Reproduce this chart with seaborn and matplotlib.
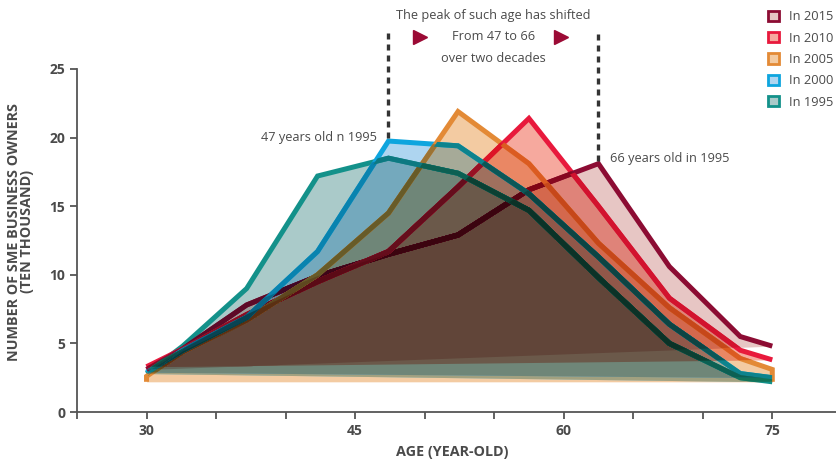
import numpy as np
import pandas as pd
import seaborn as sns
import matplotlib.pyplot as plt
from itertools import combinations
from matplotlib.path import Path
from matplotlib.patches import Patch
from matplotlib.colors import to_rgb

# values (ten thousand owners by age)
ages = [30, 32.6, 37.2, 42.3, 47.4, 52.4, 57.5, 62.5, 67.6, 72.7, 75]
owners_2015 = [3.1, 4.6, 7.8, 9.9, 11.5, 12.9, 16.2, 18.1, 10.6, 5.5, 4.8]
owners_2010 = [3.3, 4.6, 7.1, 9.5, 11.7, 16.4, 21.4, 15.0, 8.3, 4.5, 3.8]
owners_2005 = [2.6, 4.4, 6.7, 10.0, 14.5, 21.9, 18.1, 12.3, 7.6, 3.9, 3.1]
owners_2000 = [2.9, 4.5, 6.9, 11.7, 19.75, 19.4, 15.9, 11.3, 6.4, 2.8, 2.5]
owners_1995 = [2.8, 4.8, 9.0, 17.2, 18.5, 17.4, 14.7, 9.8, 5.0, 2.5, 2.2]
floor_2005 = 2.2  # the 2005 area drops to this at both ends

years = ['2015', '2010', '2005', '2000', '1995']
series = dict(zip(years, [owners_2015, owners_2010, owners_2005, owners_2000, owners_1995]))
line_colors = dict(zip(years, ['#8c0c33', '#e8193c', '#e38a36', '#0ea5de', '#13918a']))
fill_colors = dict(zip(years, ['#e7c6c4', '#f6a99e', '#f3cba2', '#aed5f0', '#aacac9']))
text_col = '#4a4a4a'

sns.set_style('ticks')
plt.rcParams['font.family'] = ['Open Sans', 'DejaVu Sans']

fig = plt.figure(figsize=(8.36, 4.66), dpi=100)
ax = fig.add_axes([77 / 836, 54 / 466, 764.8 / 836, 343 / 466])

# line paths (2005 has vertical drops at both ends)
paths = {}
for yr in years:
    if yr == '2005':
        paths[yr] = ([ages[0]] + ages + [ages[-1]], [floor_2005] + series[yr] + [floor_2005])
    else:
        paths[yr] = (list(ages), list(series[yr]))

# each area = polygon closed from last point back to first
xg = np.union1d(np.linspace(ages[0], ages[-1], 2000), ages)
curves, chords = {}, {}
for yr in years:
    px, py = paths[yr]
    curves[yr] = np.interp(xg, ages, series[yr])
    chords[yr] = np.interp(xg, [px[0], px[-1]], [py[0], py[-1]])

fill_rgb = {y: np.array(to_rgb(c)) for y, c in fill_colors.items()}
line_rgb = {y: np.array(to_rgb(c)) for y, c in line_colors.items()}

# multiply blending: paint every overlap with the product of its colours
regions = {}
for k in range(1, len(years) + 1):
    for combo in combinations(years, k):
        low = np.max([chords[y] for y in combo], axis=0)
        up = np.min([curves[y] for y in combo], axis=0)
        col = np.prod([fill_rgb[y] for y in combo], axis=0)
        regions[combo] = ax.fill_between(xg, low, up, where=up > low, interpolate=True,
                                         color=col, lw=0, zorder=1)

rows = []
for yr in years[::-1]:
    px, py = paths[yr]
    for a, v in zip(px, py):
        rows.append({'year': yr, 'age': a, 'owners': v})
df = pd.DataFrame(rows)
sns.lineplot(data=df, x='age', y='owners', hue='year', palette=line_colors,
             estimator=None, sort=False, lw=3.6, legend=False, ax=ax, zorder=2)
for ln in ax.lines:
    ln.set_solid_joinstyle('miter')
    ln.set_solid_capstyle('butt')

# lines darkened where they pass over the other areas
for yr in years:
    px, py = paths[yr]
    others = [o for o in years if o != yr]
    for k in range(1, len(others) + 1):
        for combo in combinations(others, k):
            polys = [p for p in regions[combo].get_paths() if len(p.vertices)]
            if not polys:
                continue
            clip = Path.make_compound_path(*polys)
            col = line_rgb[yr] * np.prod([fill_rgb[o] for o in combo], axis=0)
            ln, = ax.plot(px, py, color=col, lw=3.6, solid_joinstyle='miter',
                          solid_capstyle='butt', zorder=2)
            ln.set_clip_path(clip, ax.transData)

# annotations
i_a = int(np.argmax(owners_2000))
i_b = int(np.argmax(owners_2015))
xa, ya = ages[i_a], owners_2000[i_a]
xb, yb = ages[i_b], owners_2015[i_b]
for x0, y0 in [(xa, ya), (xb, yb)]:
    ax.plot([x0, x0], [y0 + 0.2, 27.8], color='#333333', lw=2.4, ls=(0, (1.8, 1.5)),
            clip_on=False, zorder=5)
xm = (xa + xb) / 2
ax.text(xm, 28.9, 'The peak of such age has shifted', ha='center', va='center',
        fontsize=9.2, color=text_col)
ax.text(xm, 27.35, 'From 47 to 66', ha='center', va='center', fontsize=9.2, color=text_col)
ax.text(xm, 25.8, 'over two decades', ha='center', va='center', fontsize=9.2, color=text_col)
ax.plot([49.7, 59.8], [27.35, 27.35], ls='none', marker='>', ms=10, color='#9b0a35',
        clip_on=False, zorder=5)
ax.text(xa - 0.8, ya + 0.25, '47 years old n 1995', ha='right', va='center',
        fontsize=9.2, color=text_col)
ax.text(xb + 0.8, yb + 0.4, '66 years old in 1995', ha='left', va='center',
        fontsize=9.2, color=text_col)

# axes
ax.set_xlim(25, 80)
ax.set_ylim(0, 25)
xt = list(range(25, 81, 5))
ax.set_xticks(xt)
ax.set_xticklabels([str(t) if t in (30, 45, 60, 75) else '' for t in xt])
ax.set_yticks(range(0, 26, 5))
ax.tick_params(axis='both', direction='out', length=5, width=1.3, colors='#555555',
               labelcolor=text_col, labelsize=10)
for lab in ax.get_xticklabels() + ax.get_yticklabels():
    lab.set_fontweight('bold')
sns.despine(ax=ax)
for s in ['left', 'bottom']:
    ax.spines[s].set_color('#555555')
    ax.spines[s].set_linewidth(1.3)
ax.set_xlabel('')
ax.set_ylabel('')
ax.text(0.49, -0.117, 'AGE (YEAR-OLD)', transform=ax.transAxes, ha='center', va='center',
        fontsize=10.4, fontweight='bold', color=text_col)
ax.text(-0.074, 0.525, 'NUMBER OF SME BUSINESS OWNERS\n(TEN THOUSAND)', transform=ax.transAxes,
        rotation=90, ha='center', va='center', multialignment='center', linespacing=0.88,
        fontsize=10.4, fontweight='bold', color=text_col)

handles = [Patch(facecolor=fill_colors[y], edgecolor=line_colors[y], lw=2, label=f'In {y}')
           for y in years]
leg = fig.legend(handles=handles, loc='upper left', bbox_to_anchor=(763 / 836, 1 - 5 / 466),
                 frameon=False, fontsize=9.3, handlelength=0.85, handleheight=0.85,
                 handletextpad=0.75, labelspacing=0.65, borderaxespad=0)
for t in leg.get_texts():
    t.set_color(text_col)

fig.savefig('out.png', dpi=100)
